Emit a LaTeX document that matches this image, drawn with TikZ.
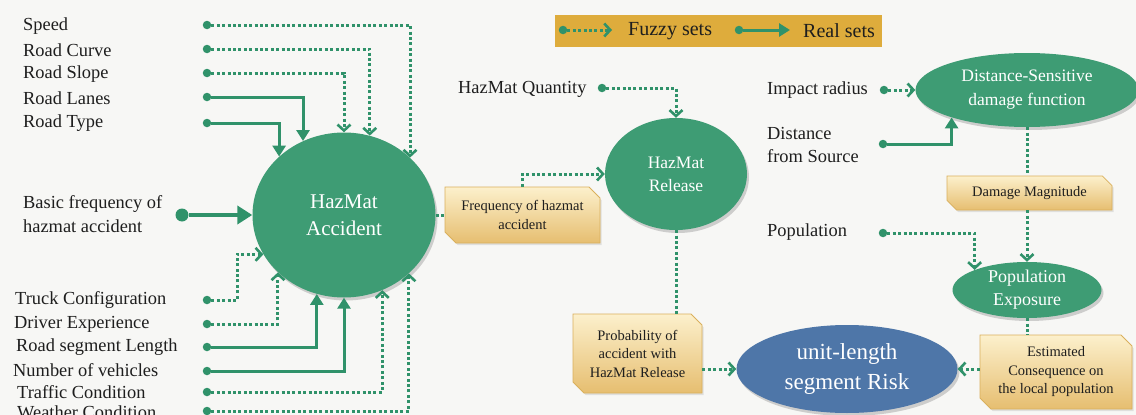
\documentclass[tikz,border=0pt]{standalone}
\usepackage{fontspec}
\setmainfont{Liberation Serif}
\usetikzlibrary{arrows.meta,shapes.geometric,shapes.misc,shadows}
\definecolor{gfill}{RGB}{62,156,116}
\definecolor{gline}{RGB}{48,146,106}
\definecolor{bfill}{RGB}{78,118,168}
\definecolor{legfill}{RGB}{222,172,60}
\definecolor{boxtop}{RGB}{252,240,204}
\definecolor{boxbot}{RGB}{230,190,112}
\definecolor{boxline}{RGB}{218,176,92}
\definecolor{bg}{RGB}{247,247,245}
\definecolor{txt}{RGB}{30,30,30}
\begin{document}
\begin{tikzpicture}[x=1pt,y=-1pt,
 lbl/.style={anchor=west,inner sep=0pt,font=\fontsize{18.4}{24}\selectfont,text=txt,align=left},
 dotn/.style={circle,fill=gline,inner sep=0pt,minimum size=8.5pt},
 bigdot/.style={circle,fill=gline,inner sep=0pt,minimum size=13pt},
 fz/.style={draw=gline,line width=3pt,dash pattern=on 3pt off 2.4pt,-{Straight Barb[length=6pt,width=13pt,line width=2.6pt]}},
 fzl/.style={draw=gline,line width=3pt,dash pattern=on 3pt off 2.4pt},
 rl/.style={draw=gline,line width=3pt,-{Triangle[length=11pt,width=13pt]}},
 bigarr/.style={draw=gline,line width=4.5pt,-{Triangle[length=15pt,width=18pt]}},
 gell/.style={ellipse,fill=gfill,text=white,inner sep=0pt,align=center,drop shadow={shadow xshift=2pt,shadow yshift=-3pt,opacity=0.35}},
 gbox/.style={chamfered rectangle,chamfered rectangle corners={north east,south west},chamfered rectangle xsep=8pt,top color=boxtop,bottom color=boxbot,draw=boxline,line width=0.8pt,align=center,font=\fontsize{14.5}{18.5}\selectfont,text=txt,inner sep=0pt,drop shadow={shadow xshift=1.5pt,shadow yshift=-2pt,opacity=0.2}}
]
\useasboundingbox (0,0) rectangle (1136,415);
\fill[bg] (0,0) rectangle (1136,415);

% legend
\node[fill=legfill,minimum width=327pt,minimum height=32pt,inner sep=0pt] (leg) at (718.5,31) {};
\node[dotn] (lgd1) at (563,30) {};
\coordinate (lge1) at (612,30);
\node[lbl,font=\fontsize{20}{24}\selectfont] (lgt1) at (628,31) {Fuzzy sets};
\node[dotn] (lgd2) at (739,30) {};
\coordinate (lge2) at (790,30);
\node[lbl,font=\fontsize{20}{24}\selectfont] (lgt2) at (803,31) {Real sets};
\draw[fz] (lgd1) -- (lge1);
\draw[rl] (lgd2) -- (lge2);

% main nodes
\node[gell,minimum width=183pt,minimum height=165pt,font=\fontsize{21}{27}\selectfont] (acc) at (344,215) {HazMat\\Accident};
\node[gell,minimum width=142pt,minimum height=112pt,font=\fontsize{17.5}{23}\selectfont] (rel) at (676,174) {HazMat\\Release};
\node[gell,minimum width=223pt,minimum height=74pt,font=\fontsize{17.5}{24}\selectfont] (dse) at (1027,90) {Distance-Sensitive\\damage function};
\node[gell,minimum width=149pt,minimum height=56pt,font=\fontsize{18}{23}\selectfont] (pe) at (1027,290) {Population\\Exposure};
\node[gell,fill=bfill,minimum width=221pt,minimum height=88pt,font=\fontsize{23}{30}\selectfont] (risk) at (847,369) {unit-length\\segment Risk};

\node[gbox,minimum width=155pt,minimum height=56pt] (freq) at (522.5,215) {Frequency of hazmat\\accident};
\node[gbox,minimum width=129pt,minimum height=79pt] (prob) at (637.5,353.5) {Probability of\\accident with\\HazMat Release};
\node[gbox,minimum width=165pt,minimum height=34pt] (dm) at (1029.5,193) {Damage Magnitude};
\node[gbox,minimum width=152pt,minimum height=74pt] (est) at (1056,372) {Estimated\\Consequence on\\the local population};

% left labels
\node[lbl] (l1) at (23,26) {Speed};
\node[lbl] (l2) at (23,50) {Road Curve};
\node[lbl] (l3) at (23,74) {Road Slope};
\node[lbl] (l4) at (23,98) {Road Lanes};
\node[lbl] (l5) at (23,123) {Road Type};
\node[lbl] (lbf) at (23,214) {Basic frequency of\\hazmat accident};
\node[lbl] (l6) at (15,300) {Truck Configuration};
\node[lbl] (l7) at (14,324) {Driver Experience};
\node[lbl] (l8) at (16,347) {Road segment Length};
\node[lbl] (l9) at (13,370) {Number of vehicles};
\node[lbl] (l10) at (17,392) {Traffic Condition};
\node[lbl] (l11) at (17,412) {Weather Condition};

\node[dotn] (d1) at (207,25) {};
\node[dotn] (d2) at (207,49) {};
\node[dotn] (d3) at (207,73) {};
\node[dotn] (d4) at (207,97) {};
\node[dotn] (d5) at (207,123) {};
\node[bigdot] (bfd) at (182,215) {};
\node[dotn] (d6) at (207,300) {};
\node[dotn] (d7) at (207,324) {};
\node[dotn] (d8) at (207,347) {};
\node[dotn] (d9) at (207,371) {};
\node[dotn] (d10) at (207,392) {};
\node[dotn] (d11) at (207,411) {};

% other labels
\node[lbl] (hq) at (458,89) {HazMat Quantity};
\node[dotn] (hqd) at (602,88) {};
\node[lbl] (ir) at (767,90) {Impact radius};
\node[dotn] (ird) at (884,90) {};
\node[lbl,font=\fontsize{18.4}{23}\selectfont] (ds) at (767,145) {Distance\\from Source};
\node[dotn] (dsd) at (883,144) {};
\node[lbl] (pop) at (767,232) {Population};
\node[dotn] (popd) at (883,233) {};

% connectors into HazMat Accident
\draw[fz] (d1) -| (acc.41.8);
\draw[fz] (d2) -| (acc.72.5);
\draw[fz] (d3) -| (acc.90);
\draw[rl] (d4) -| (acc.119.1);
\draw[rl] (d5) -| (acc.138.2);
\draw[bigarr] (bfd) -- (acc.west);
\draw[fz] (d6) -- ++(30,0) |- (acc.206.6);
\draw[fz] (d7) -| (acc.221.8);
\draw[rl] (d8) -| (acc.251.1);
\draw[rl] (d9) -| (acc.270);
\draw[fz] (d10) -| (acc.297.6);
\draw[fz] (d11) -| (acc.318.2);

% rest of the flow
\draw[fzl] (acc.east) -- (freq.west);
\draw[fz] (freq.north) |- (rel.west);
\draw[fz] (hqd) -| (rel.north);
\draw[fzl] (rel.south) -- (rel.south |- prob.north);
\draw[fz] (prob.east |- risk.west) -- (risk.west);
\draw[fz] (ird) -- (dse.west);
\draw[rl] (dsd) -| (dse.200.1);
\draw[fzl] (dse.south) -- (dse.south |- dm.north);
\draw[fz] (pe.north |- dm.south) -- (pe.north);
\draw[fz] (popd) -| (pe.159);
\draw[fzl] (pe.south) -- (pe.south |- est.north);
\draw[fz] (est.west |- risk.east) -- (risk.east);
\end{tikzpicture}
\end{document}
